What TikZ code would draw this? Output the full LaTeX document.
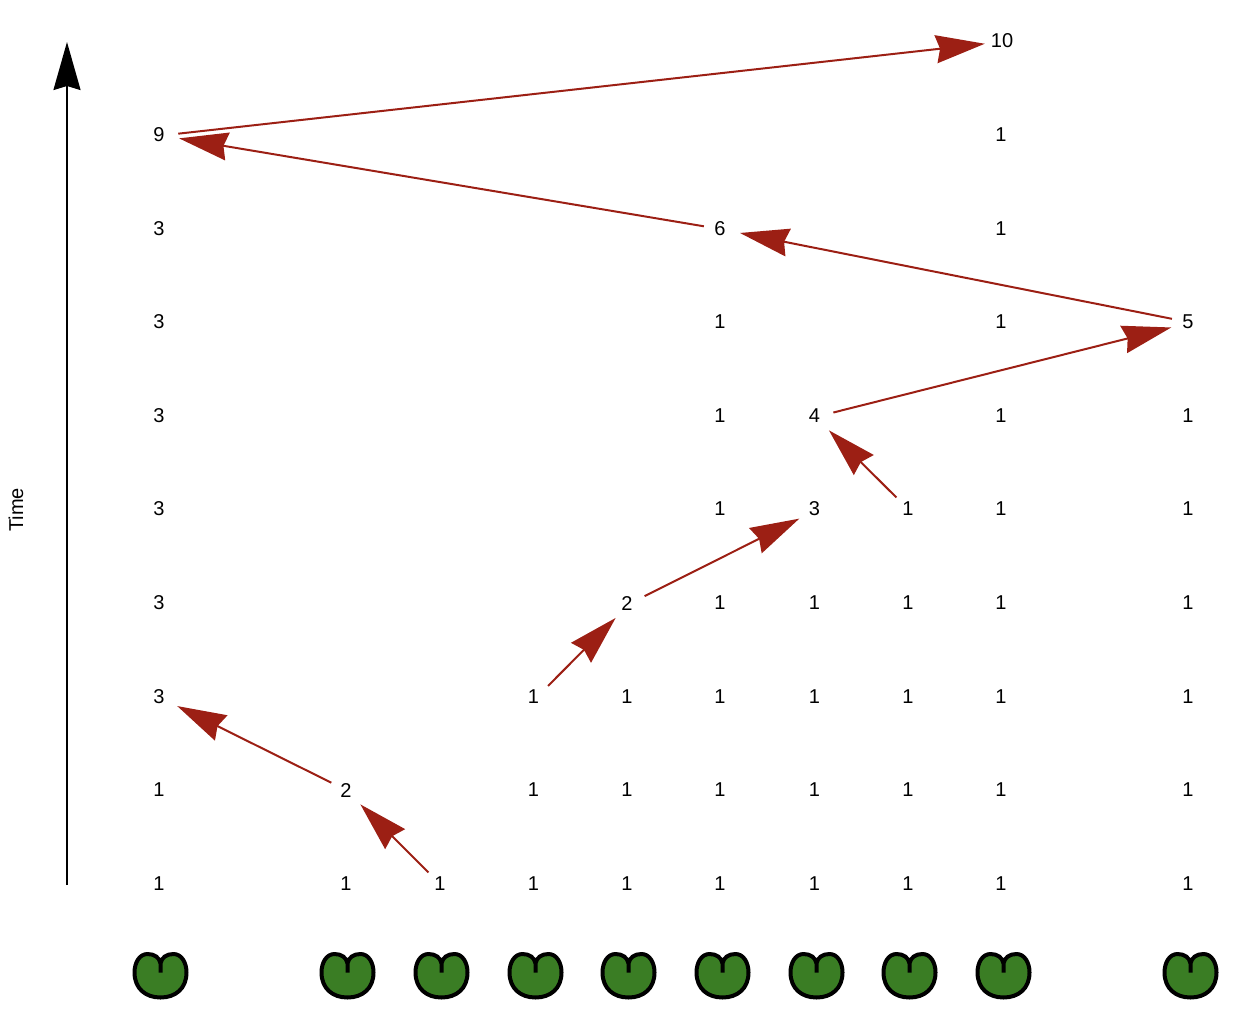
\documentclass[tikz,border=0pt]{standalone}
\usepackage{fontspec}
\setmainfont{Liberation Sans}
\usetikzlibrary{arrows.meta}
\definecolor{hopred}{HTML}{9C1F14}
\definecolor{padgreen}{HTML}{3A7D24}
\tikzset{
  count/.style={circle,inner sep=0pt,minimum size=0.64cm,font=\fontsize{11.4pt}{14pt}\selectfont},
  hop/.style={draw=hopred,line width=0.04cm,shorten >=0.08cm,
    -{Stealth[length=0.98cm,width=0.56cm,inset=0.08cm,fill=hopred]}},
  hopup/.style={hop,transform canvas={xshift=0.06cm,yshift=-0.01cm}},
  timeline/.style={draw=black,line width=0.04cm,
    -{Stealth[length=0.96cm,width=0.54cm,inset=0.08cm]}},
  lilypad/.pic={
    \path[draw=black,fill=padgreen,line width=0.08cm,line join=round]
      (0,-3) -- (0,-12)
      .. controls (-1,-18) and (-6,-21.5) .. (-13,-21.5)
      .. controls (-21,-21.5) and (-26,-13) .. (-26,-3)
      .. controls (-26,13) and (-15,22) .. (0,22)
      .. controls (15,22) and (26,13) .. (26,-3)
      .. controls (26,-13) and (21,-21.5) .. (13,-21.5)
      .. controls (6,-21.5) and (1,-18) .. (0,-12);
  }
}
\begin{document}
\begin{tikzpicture}[x=0.02cm,y=-0.02cm]
\useasboundingbox (0,0) rectangle (1250,1024);
% time axis
\coordinate (t0) at (67,885);
\coordinate (t1) at (67,42);
\path[timeline] (t0) -- (t1);
\node[count,rotate=90] (time) at (16,510) {Time};
% row 0
\node[count] (a0) at (159,884) {1};
\node[count] (b0) at (346,884) {1};
\node[count] (c0) at (440,884) {1};
\node[count] (d0) at (533.5,884) {1};
\node[count] (e0) at (627,884) {1};
\node[count] (f0) at (720,884) {1};
\node[count] (g0) at (814.5,884) {1};
\node[count] (h0) at (908,884) {1};
\node[count] (i0) at (1001,884) {1};
\node[count] (j0) at (1188,884) {1};
% row 1
\node[count] (a1) at (159,790) {1};
\node[count] (b1) at (346,790) {2};
\node[count] (d1) at (533.5,790) {1};
\node[count] (e1) at (627,790) {1};
\node[count] (f1) at (720,790) {1};
\node[count] (g1) at (814.5,790) {1};
\node[count] (h1) at (908,790) {1};
\node[count] (i1) at (1001,790) {1};
\node[count] (j1) at (1188,790) {1};
% row 2
\node[count] (a2) at (159,697) {3};
\node[count] (d2) at (533.5,697) {1};
\node[count] (e2) at (627,697) {1};
\node[count] (f2) at (720,697) {1};
\node[count] (g2) at (814.5,697) {1};
\node[count] (h2) at (908,697) {1};
\node[count] (i2) at (1001,697) {1};
\node[count] (j2) at (1188,697) {1};
% row 3
\node[count] (a3) at (159,603) {3};
\node[count] (e3) at (627,603) {2};
\node[count] (f3) at (720,603) {1};
\node[count] (g3) at (814.5,603) {1};
\node[count] (h3) at (908,603) {1};
\node[count] (i3) at (1001,603) {1};
\node[count] (j3) at (1188,603) {1};
% row 4
\node[count] (a4) at (159,509) {3};
\node[count] (f4) at (720,509) {1};
\node[count] (g4) at (814.5,509) {3};
\node[count] (h4) at (908,509) {1};
\node[count] (i4) at (1001,509) {1};
\node[count] (j4) at (1188,509) {1};
% row 5
\node[count] (a5) at (159,416) {3};
\node[count] (f5) at (720,416) {1};
\node[count] (g5) at (814.5,416) {4};
\node[count] (i5) at (1001,416) {1};
\node[count] (j5) at (1188,416) {1};
% row 6
\node[count] (a6) at (159,322) {3};
\node[count] (f6) at (720,322) {1};
\node[count] (i6) at (1001,322) {1};
\node[count] (j6) at (1188,322) {5};
% row 7
\node[count] (a7) at (159,229) {3};
\node[count] (f7) at (720,229) {6};
\node[count] (i7) at (1001,229) {1};
% row 8
\node[count] (a8) at (159,135) {9};
\node[count] (i8) at (1001,135) {1};
% row 9
\node[count] (i9) at (1002,41) {10};
% hops
\path[hop] (c0) -- (b1);
\path[hop] (b1) -- (a2);
\path[hopup] (d2) -- (e3);
\path[hopup] (e3) -- (g4);
\path[hop] (h4) -- (g5);
\path[hopup] (g5) -- (j6);
\path[hop] (j6) -- (f7);
\path[hop] (f7) -- (a8);
\path[hopup] (a8) -- (i9);
% lily pads
\pic at (160.5,975.5) {lilypad};
\pic at (347.5,975.5) {lilypad};
\pic at (441.5,975.5) {lilypad};
\pic at (535.5,975.5) {lilypad};
\pic at (628.5,975.5) {lilypad};
\pic at (722.5,975.5) {lilypad};
\pic at (816.5,975.5) {lilypad};
\pic at (909.5,975.5) {lilypad};
\pic at (1003.5,975.5) {lilypad};
\pic at (1190.5,975.5) {lilypad};
\end{tikzpicture}
\end{document}
